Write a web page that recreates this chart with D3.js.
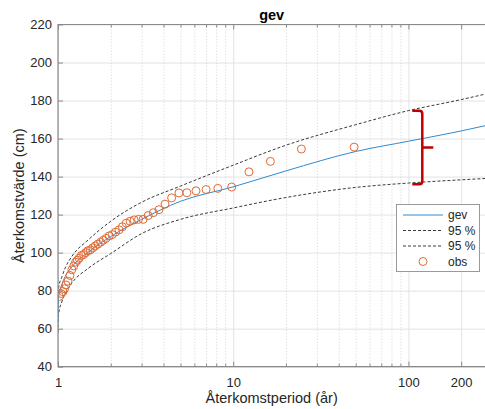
<!DOCTYPE html>
<html>
<head>
<meta charset="utf-8">
<script src="https://cdn.jsdelivr.net/npm/d3@7"></script>
<style>
    body { margin: 0; background: #fff; }
    svg { display: block; font-family: "Liberation Sans", Arial, sans-serif; }
</style>
</head>
<body>
<svg id="chart" width="485" height="409"></svg>
<script>
// GEV-anpassning av återkomstvärden

// Kurvor: återkomstperiod (år) och värden (cm)
const curveT = [1.0001, 1.001, 1.01, 1.05, 1.1, 1.2, 1.5, 2, 3, 5, 10, 20, 50, 100, 200, 275];
const gevValues = [63, 71, 77, 83, 87.5, 92.5, 100.5, 108.5, 117.5, 127, 134.6, 143, 153.2, 158.6, 164, 166.8];
const upperValues = [68, 75, 82, 87, 92, 98, 107, 116.5, 126.5, 135, 146, 156.5, 167.3, 174.7, 180.5, 183.4];
const lowerValues = [58, 63, 68, 74, 78.5, 84, 92, 99.5, 110, 117.5, 123.5, 129, 134.3, 136.6, 138.3, 139];

// Observationer (plottningspositioner)
const obsT = [49, 24.5, 16.3, 12.3, 9.8, 8.17, 7, 6.13, 5.44, 4.9, 4.45, 4.08, 3.77, 3.5, 3.27, 3.06,
    2.88, 2.72, 2.58, 2.45, 2.33, 2.23, 2.13, 2.04, 1.96, 1.88, 1.81, 1.75, 1.69, 1.63, 1.58, 1.53,
    1.48, 1.44, 1.4, 1.36, 1.32, 1.29, 1.26, 1.23, 1.2, 1.17, 1.14, 1.11, 1.09, 1.07, 1.04, 1.02];
const obsValues = [155.5, 154.5, 148, 142.5, 134.5, 133.8, 133.2, 132.5, 131.5, 131.4, 128.8, 125.5, 122.6, 121, 119.5, 117.5,
    117.5, 117.2, 116.5, 115.5, 113.6, 112, 110.8, 109.5, 108.8, 107.5, 106.5, 105.5, 104.5, 103.5, 102.5, 101.5,
    101, 100, 99, 98.5, 97, 96, 95, 93, 91, 88, 85, 83, 81, 79.5, 78.5, 77];

// Klammer (konfidensintervall vid T ≈ 120 år)
const bracketT = 120;
const bracketRange = [136, 174.6];

// Axlar
const xTicks = [1, 10, 100, 200];
const xMinorTicks = [2, 3, 4, 5, 6, 7, 8, 9, 20, 30, 40, 50, 60, 70, 80, 90];
const yTicks = [40, 60, 80, 100, 120, 140, 160, 180, 200, 220];

const legendItems = [
    { label: "gev", type: "line" },
    { label: "95 %", type: "dash" },
    { label: "95 %", type: "dash" },
    { label: "obs", type: "circle" }
];

// Layout
const plotLeft = 58, plotRight = 485.4, plotTop = 24.5, plotBottom = 366.7;
const svg = d3.select("#chart");

const x = d3.scaleLog().domain([1, 275]).range([plotLeft, plotRight]);
const y = d3.scaleLinear().domain([40, 220]).range([plotBottom, plotTop]);

const blue = "#2f8ad0";
const orange = "#e06a35";
const dashColor = "#3a3a3a";

// Rutnät
svg.append("g")
    .attr("transform", `translate(${plotLeft},0)`)
    .call(d3.axisLeft(y).tickValues(yTicks).tickSize(-(plotRight - plotLeft)).tickFormat(""))
    .call(g => g.select(".domain").remove())
    .selectAll("line").attr("stroke", "#e3e3e3");

svg.append("g")
    .attr("transform", `translate(0,${plotBottom})`)
    .call(d3.axisBottom(x).tickValues(xMinorTicks).tickSize(-(plotBottom - plotTop)).tickFormat(""))
    .call(g => g.select(".domain").remove())
    .selectAll("line").attr("stroke", "#d2d2d2").attr("stroke-dasharray", "1,2");

svg.append("g")
    .attr("transform", `translate(0,${plotBottom})`)
    .call(d3.axisBottom(x).tickValues(xTicks).tickSize(-(plotBottom - plotTop)).tickFormat(""))
    .call(g => g.select(".domain").remove())
    .selectAll("line").attr("stroke", "#e3e3e3");

// Klippning till plottytan
svg.append("clipPath").attr("id", "plot-clip")
    .append("rect").attr("x", plotLeft).attr("y", plotTop)
    .attr("width", plotRight - plotLeft).attr("height", plotBottom - plotTop);

const plot = svg.append("g").attr("clip-path", "url(#plot-clip)");

const line = d3.line()
    .x(d => x(d[0]))
    .y(d => y(d[1]))
    .curve(d3.curveMonotoneX);

plot.append("path")
    .attr("d", line(curveT.map((t, i) => [t, upperValues[i]])))
    .attr("fill", "none").attr("stroke", dashColor).attr("stroke-width", 1)
    .attr("stroke-dasharray", "3,2");

plot.append("path")
    .attr("d", line(curveT.map((t, i) => [t, lowerValues[i]])))
    .attr("fill", "none").attr("stroke", dashColor).attr("stroke-width", 1)
    .attr("stroke-dasharray", "3,2");

plot.append("path")
    .attr("d", line(curveT.map((t, i) => [t, gevValues[i]])))
    .attr("fill", "none").attr("stroke", blue).attr("stroke-width", 1);

plot.selectAll("circle.obs")
    .data(obsT.map((t, i) => [t, obsValues[i]]))
    .join("circle")
    .attr("class", "obs")
    .attr("cx", d => x(d[0]))
    .attr("cy", d => y(d[1]))
    .attr("r", 4)
    .attr("fill", "none")
    .attr("stroke", orange)
    .attr("stroke-width", 1);

// Axlar med tickmarkeringar (inåt)
const axisColor = "#8a8a8a";
const labelColor = "#262626";

const xAxis = svg.append("g")
    .attr("transform", `translate(0,${plotBottom})`)
    .call(d3.axisBottom(x).tickValues(xTicks).tickFormat(d3.format("d"))
        .tickSizeInner(-5).tickSizeOuter(0).tickPadding(11));
xAxis.select(".domain").remove();
xAxis.selectAll("line").attr("stroke", axisColor);
xAxis.selectAll("text").attr("fill", labelColor).style("font-size", "13px");

svg.append("g")
    .attr("transform", `translate(0,${plotBottom})`)
    .call(d3.axisBottom(x).tickValues(xMinorTicks).tickFormat("").tickSizeInner(-3).tickSizeOuter(0))
    .call(g => g.select(".domain").remove())
    .selectAll("line").attr("stroke", axisColor);

svg.append("g")
    .attr("transform", `translate(0,${plotTop})`)
    .call(d3.axisTop(x).tickValues(xTicks).tickFormat("").tickSizeInner(-5).tickSizeOuter(0))
    .call(g => g.select(".domain").remove())
    .selectAll("line").attr("stroke", axisColor);

svg.append("g")
    .attr("transform", `translate(0,${plotTop})`)
    .call(d3.axisTop(x).tickValues(xMinorTicks).tickFormat("").tickSizeInner(-3).tickSizeOuter(0))
    .call(g => g.select(".domain").remove())
    .selectAll("line").attr("stroke", axisColor);

const yAxis = svg.append("g")
    .attr("transform", `translate(${plotLeft},0)`)
    .call(d3.axisLeft(y).tickValues(yTicks).tickSizeInner(-5).tickSizeOuter(0).tickPadding(6));
yAxis.select(".domain").remove();
yAxis.selectAll("line").attr("stroke", axisColor);
yAxis.selectAll("text").attr("fill", labelColor).style("font-size", "13px");

// Axellinjer (box)
svg.append("path")
    .attr("d", `M${plotRight},${plotTop}H${plotLeft}V${plotBottom}H${plotRight}`)
    .attr("fill", "none").attr("stroke", axisColor).attr("stroke-width", 1.2);

// Titel och axeltitlar
svg.append("text")
    .attr("x", (plotLeft + plotRight) / 2).attr("y", 20)
    .attr("text-anchor", "middle")
    .style("font-size", "14.5px").style("font-weight", "bold")
    .attr("fill", "#000")
    .text("gev");

svg.append("text")
    .attr("x", (plotLeft + plotRight) / 2).attr("y", 403)
    .attr("text-anchor", "middle")
    .style("font-size", "14.5px")
    .attr("fill", labelColor)
    .text("Återkomstperiod (år)");

svg.append("text")
    .attr("transform", `translate(24,${(plotTop + plotBottom) / 2}) rotate(-90)`)
    .attr("text-anchor", "middle")
    .style("font-size", "14.5px")
    .attr("fill", labelColor)
    .text("Återkomstvärde (cm)");

// Röd klammer
const bx = x(bracketT);
const bTop = y(bracketRange[1]);
const bBot = y(bracketRange[0]);
const bMid = (bTop + bBot) / 2;
svg.append("path")
    .attr("d", `M${bx - 10},${bTop}H${bx - 3}Q${bx},${bTop} ${bx},${bTop + 3}V${bBot - 3}Q${bx},${bBot} ${bx - 3},${bBot}H${bx - 10}` +
        `M${bx},${bMid}H${bx + 11}`)
    .attr("fill", "none")
    .attr("stroke", "#c00000")
    .attr("stroke-width", 2.5)
    .attr("stroke-linejoin", "round");

// Teckenförklaring
const legend = svg.append("g").attr("transform", "translate(396,204)");
legend.append("rect")
    .attr("x", 0.5).attr("y", 0.5)
    .attr("width", 83).attr("height", 67)
    .attr("fill", "#fff").attr("stroke", "#9a9a9a");

legendItems.forEach((item, i) => {
    const ly = 11 + i * 15.5;
    if (item.type === "circle") {
        legend.append("circle")
            .attr("cx", 27).attr("cy", ly).attr("r", 4)
            .attr("fill", "none").attr("stroke", orange);
    } else {
        legend.append("line")
            .attr("x1", 7).attr("x2", 47).attr("y1", ly).attr("y2", ly)
            .attr("stroke", item.type === "line" ? blue : dashColor)
            .attr("stroke-dasharray", item.type === "dash" ? "3,2" : null);
    }
    legend.append("text")
        .attr("x", 52).attr("y", ly + 4.3)
        .style("font-size", "12px")
        .attr("fill", labelColor)
        .text(item.label);
});
</script>
</body>
</html>
